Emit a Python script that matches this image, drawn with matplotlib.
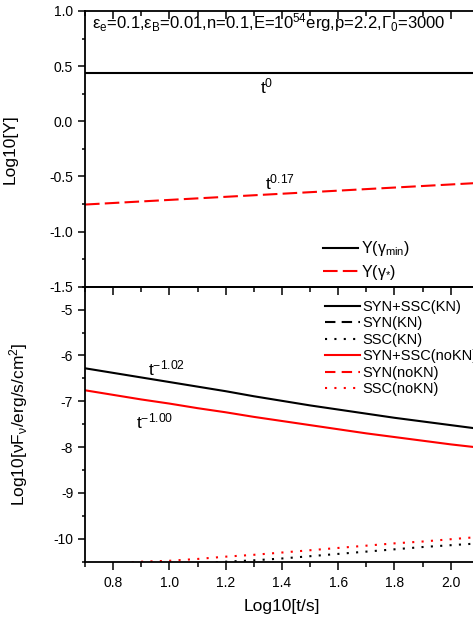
import matplotlib
matplotlib.use("Agg")
import matplotlib.pyplot as plt
from matplotlib.ticker import MultipleLocator

plt.rcParams['font.family'] = ['Liberation Sans', 'DejaVu Sans']
plt.rcParams['mathtext.fontset'] = 'custom'
plt.rcParams['mathtext.rm'] = 'Liberation Sans'
plt.rcParams['mathtext.it'] = 'Liberation Sans'
plt.rcParams['mathtext.bf'] = 'Liberation Sans:bold'
plt.rcParams['axes.unicode_minus'] = False

# ---------------- data ----------------
log_t = [0.7, 0.8, 0.9, 1.0, 1.1, 1.2, 1.3, 1.4, 1.5, 1.6, 1.7, 1.8, 1.9, 2.0, 2.1]

Y_gamma_min = [0.434] * 15
Y_gamma_star = [-0.755, -0.741, -0.727, -0.713, -0.699, -0.685, -0.671, -0.657,
                -0.643, -0.629, -0.615, -0.601, -0.587, -0.573, -0.559]

syn_ssc_KN = [-6.28, -6.38, -6.48, -6.58, -6.68, -6.78, -6.89, -6.99,
              -7.09, -7.18, -7.27, -7.36, -7.44, -7.52, -7.60]
syn_KN = [-11.60, -11.62, -11.64, -11.66, -11.68, -11.70, -11.72, -11.74,
          -11.76, -11.78, -11.80, -11.82, -11.84, -11.86, -11.88]
ssc_KN = [-10.75, -10.70, -10.65, -10.60, -10.55, -10.50, -10.47, -10.43,
          -10.38, -10.33, -10.28, -10.23, -10.18, -10.14, -10.10]

syn_ssc_noKN = [-6.76, -6.86, -6.96, -7.05, -7.15, -7.24, -7.34, -7.43,
                -7.52, -7.61, -7.70, -7.78, -7.86, -7.94, -8.01]
syn_noKN = [-11.80, -11.82, -11.84, -11.86, -11.88, -11.90, -11.92, -11.94,
            -11.96, -11.98, -12.00, -12.02, -12.04, -12.06, -12.08]
ssc_noKN = [-10.60, -10.55, -10.50, -10.48, -10.44, -10.39, -10.35, -10.30,
            -10.25, -10.20, -10.15, -10.10, -10.06, -10.01, -9.96]

# ---------------- figure ----------------
fig = plt.figure(figsize=(4.73, 6.19), dpi=100)
L, R = 85 / 473, 478.8 / 473
ax1 = fig.add_axes([L, 1 - 286.7 / 619, R - L, (286.7 - 11) / 619])
ax2 = fig.add_axes([L, 1 - 561.7 / 619, R - L, (561.7 - 286.7) / 619])

lw = 1.5
for ax in (ax1, ax2):
    for s in ax.spines.values():
        s.set_linewidth(1.3)
    ax.set_xlim(0.7, 2.1)
    ax.xaxis.set_major_locator(MultipleLocator(0.2))
    ax.xaxis.set_minor_locator(MultipleLocator(0.1))
    ax.tick_params(axis='y', which='major', direction='out', length=5, width=1.1, labelsize=10)
    ax.tick_params(axis='y', which='minor', direction='out', length=2.5, width=1.1)

# top panel
ax1.plot(log_t, Y_gamma_min, color='black', lw=lw, label=r'Y($\gamma_{\mathrm{min}}$)')
ax1.plot(log_t, Y_gamma_star, color='red', lw=lw, dashes=(7, 2.5), label=r'Y($\gamma_{*}$)')
ax1.set_ylim(-1.5, 1.0)
ax1.yaxis.set_major_locator(MultipleLocator(0.5))
ax1.yaxis.set_minor_locator(MultipleLocator(0.25))
ax1.xaxis.set_ticks_position('top')
ax1.tick_params(axis='x', which='both', direction='in', labeltop=False, labelbottom=False, width=1.1)
ax1.tick_params(axis='x', which='major', length=5.5)
ax1.tick_params(axis='x', which='minor', length=3.5)
ax1.set_ylabel('Log10[Y]', fontsize=12.5)
ax1.yaxis.set_label_coords(-0.171, 0.5)
ax1.text(0.725, 0.845,
         r'$\mathrm{\epsilon_e}$=0.1,$\mathrm{\epsilon_B}$=0.01,n=0.1,E=10$^{54}$erg,p=2.2,$\Gamma_0$=3000',
         fontsize=12, ha='left', va='baseline')
ax1.text(1.321, 0.255, r't$^{0}$', fontsize=12.5, ha='left', va='baseline')
ax1.text(1.339, -0.618, r't$^{0.17}$', fontsize=12.5, ha='left', va='baseline')
ax1.legend(loc='upper left', bbox_to_anchor=(0.605, 0.172), frameon=False, fontsize=11.5,
           handlelength=2.2, handletextpad=0.15, labelspacing=0.3, borderpad=0, borderaxespad=0)

# bottom panel
ax2.plot(log_t, syn_ssc_KN, color='black', lw=lw, label='SYN+SSC(KN)')
ax2.plot(log_t, syn_KN, color='black', lw=lw, dashes=(5, 3), label='SYN(KN)')
ax2.plot(log_t, ssc_KN, color='black', lw=lw, dashes=(1, 3.5), label='SSC(KN)')
ax2.plot(log_t, syn_ssc_noKN, color='red', lw=lw, label='SYN+SSC(noKN)')
ax2.plot(log_t, syn_noKN, color='red', lw=lw, dashes=(5, 3), label='SYN(noKN)')
ax2.plot(log_t, ssc_noKN, color='red', lw=lw, dashes=(1, 3.5), label='SSC(noKN)')
ax2.set_ylim(-10.5, -4.5)
ax2.yaxis.set_major_locator(MultipleLocator(1))
ax2.yaxis.set_minor_locator(MultipleLocator(0.5))
ax2.tick_params(axis='x', which='major', direction='out', length=5.5, width=1.1, labelsize=10, pad=5)
ax2.tick_params(axis='x', which='minor', direction='out', length=3.5, width=1.1)
ax2.xaxis.set_major_formatter(matplotlib.ticker.FormatStrFormatter('%.1f'))
sec = ax2.secondary_xaxis('top')
sec.xaxis.set_major_locator(MultipleLocator(0.2))
sec.xaxis.set_minor_locator(MultipleLocator(0.1))
sec.tick_params(axis='x', which='both', direction='in', labeltop=False, width=1.1)
sec.tick_params(axis='x', which='major', length=5.5)
sec.tick_params(axis='x', which='minor', length=3.5)
sec.spines['top'].set_linewidth(1.3)
ax2.set_ylabel(r'Log10[$\nu$F$_{\nu}$/erg/s/cm$^{2}$]', fontsize=12.5)
ax2.yaxis.set_label_coords(-0.140, 0.5)
ax2.set_xlabel('Log10[t/s]', fontsize=12.5, labelpad=6)
ax2.text(0.924, -6.43, r't$^{-1.02}$', fontsize=12.5, ha='left', va='baseline')
ax2.text(0.882, -7.59, r't$^{-1.00}$', fontsize=12.5, ha='left', va='baseline')
ax2.legend(loc='upper left', bbox_to_anchor=(0.61, 0.952), frameon=False, fontsize=10.5,
           handlelength=2.4, handletextpad=0.15, labelspacing=0.17, borderpad=0, borderaxespad=0)

fig.savefig('out.png', dpi=100)
